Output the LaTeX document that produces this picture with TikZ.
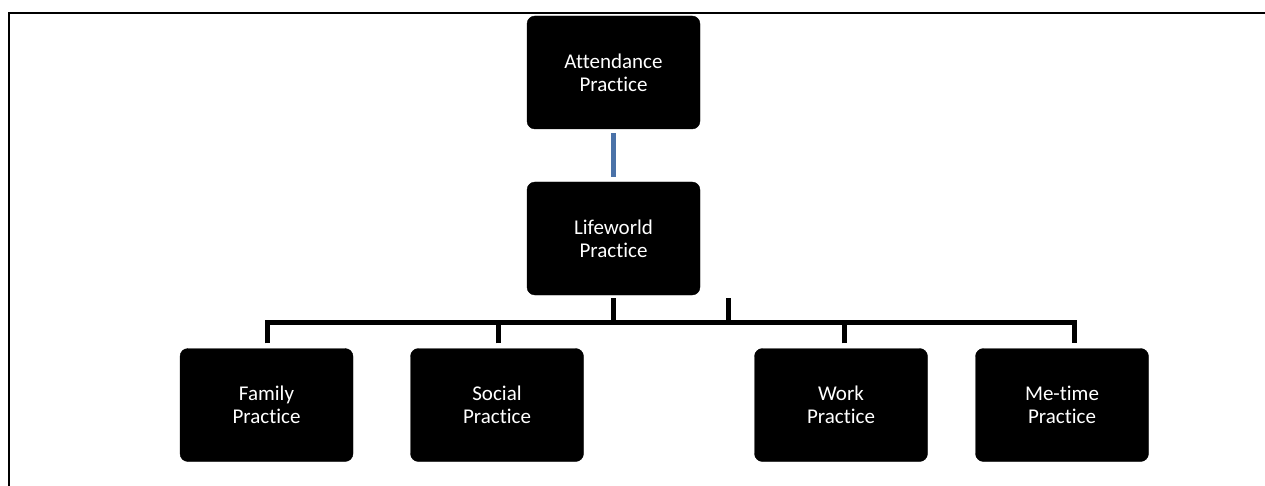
\documentclass[tikz,border=0pt]{standalone}
\usepackage{fontspec}
\setmainfont[Ligatures=NoCommon]{Carlito}
\usetikzlibrary{calc}
\definecolor{linkblue}{RGB}{74,114,168}
\tikzset{
  box/.style={fill=black, draw=black, rounded corners=8pt, minimum width=173pt, minimum height=113pt,
    text=white, align=center, font=\fontsize{21}{23}\selectfont, inner sep=0pt},
  conn/.style={draw=black, line width=5pt, line join=miter},
  blueconn/.style={draw=linkblue, line width=5pt},
  frame/.style={draw=black, line width=2pt}
}
\begin{document}
\begin{tikzpicture}[x=1pt,y=-1pt]
\useasboundingbox (0,0) rectangle (1265,486);
\draw[frame] (8.5,486) -- (8.5,13.5) -- (1265,13.5);
\node[box] (att) at (613.5,72.5) {Attendance\\Practice};
\node[box] (life) at (613.5,238.5) {Lifeworld\\Practice};
\node[box] (fam) at (266.5,405) {Family\\Practice};
\node[box] (soc) at (497,405) {Social\\Practice};
\node[box] (work) at (841,405) {Work\\Practice};
\node[box] (me) at (1062,405) {Me-time\\Practice};
% connectors
\draw[blueconn] ($(att.south)+(0,4)$) -- ($(life.north)+(0,-5)$);
\coordinate (famtop) at ($(fam.north)+(0.5,-5)$);
\coordinate (soctop) at ($(soc.north)+(1,-5)$);
\coordinate (worktop) at ($(work.north)+(3,-5)$);
\coordinate (metop) at ($(me.north)+(12,-5)$);
\coordinate (barL) at ($(famtop)+(0,-21)$);
\coordinate (barR) at ($(metop)+(0,-21)$);
\draw[conn] (famtop) -- (barL) -- (barR) -- (metop);
\draw[conn] (soctop) -- (soctop |- barL);
\draw[conn] (worktop) -- (worktop |- barL);
\draw[conn] ($(life.south)+(0,3)$) -- (life.south |- barL);
\coordinate (stubtop) at (728,298);
\draw[conn] (stubtop) -- (stubtop |- barL);
\end{tikzpicture}
\end{document}
